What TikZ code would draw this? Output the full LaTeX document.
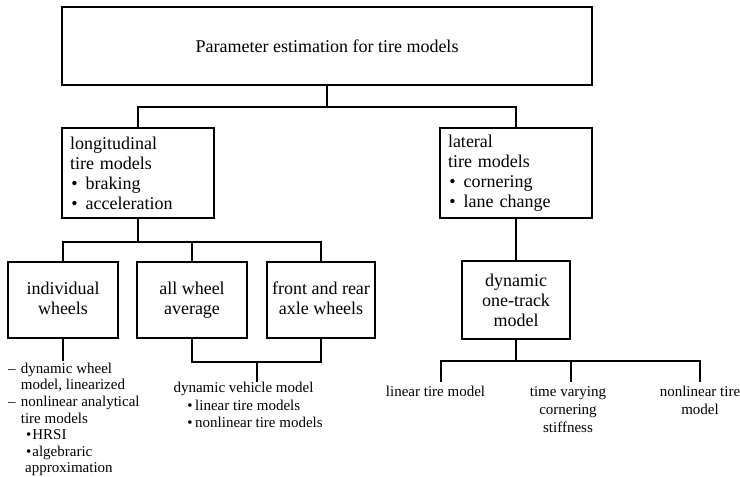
\documentclass[tikz,border=0pt]{standalone}
\usepackage{fontspec}
\setmainfont{Liberation Serif}
% bullet items inside the boxes and in the notes below them
\newcommand\boxitem{\hspace*{1.4pt}\makebox[14.3pt][l]{•}}
\newcommand\nestitem{\hspace*{17.9pt}\makebox[6.3pt][l]{•}}
\newcommand\dashitem{\makebox[12.7pt][l]{–}}
\newcommand\veritem{\hspace*{13.9pt}\makebox[7.8pt][l]{•}}
% keeps the two-line leaf labels on common baselines
\newcommand\lowline{\vphantom{g}}
\begin{document}
\begin{tikzpicture}[x=1pt,y=-1pt,
  box/.style={draw, line width=2pt, inner sep=0pt, font=\fontsize{18}{20}\selectfont},
  cbox/.style={box, align=center},
  lbox/.style={box, align=left, text width=136pt, minimum width=152pt, minimum height=90pt},
  wbox/.style={cbox, minimum height=76pt},
  wire/.style={line width=2pt},
  note/.style={inner sep=0pt, font=\fontsize{15}{#1}\selectfont},
  note/.default=17,
]
\useasboundingbox (0,0) rectangle (740,477);

% root
\node[cbox, minimum width=530pt, minimum height=78pt] (top) at (327,46)
  {Parameter estimation for tire models};

% second level
\node[lbox] (lon) at (138,173)
  {longitudinal\\tire models\\\boxitem braking\\\boxitem acceleration};
\node[lbox] (lat) at (516,173)
  {lateral\\tire models\\\boxitem cornering\\\boxitem lane change};

% third level
\node[wbox, minimum width=110pt] (ind) at (63,300) {individual\\wheels\lowline};
\node[wbox, minimum width=110pt] (avg) at (192,300) {all wheel\\average\lowline};
\node[wbox, minimum width=108pt] (axl) at (321,300) {front and rear\\axle wheels\lowline};
\node[cbox, minimum width=108pt, minimum height=78pt] (dyn) at (516,300)
  {dynamic\\one-track\\model};

% junctions
\coordinate (j1) at (327,107);
\coordinate (j2) at (138,242);
\coordinate (j3) at (257,362);
\coordinate (j4) at (516,361);
\coordinate (e1) at (63,361);
\coordinate (e2) at (257,382);
\coordinate (e3) at (441,382);
\coordinate (e4) at (571,382);
\coordinate (e5) at (700,382);

% connectors
\draw[wire] (top.south) -- (j1);
\draw[wire] (lon.north) |- (j1) -| (lat.north);
\draw[wire] (lon.south) -- (j2);
\draw[wire] (ind.north) |- (j2) -| (axl.north);
\draw[wire] (avg.north) -- (avg.north |- j2);
\draw[wire] (ind.south) -- (e1);
\draw[wire] (avg.south) |- (j3) -| (axl.south);
\draw[wire] (j3) -- (e2);
\draw[wire] (lat.south) -- (dyn.north);
\draw[wire] (dyn.south) -- (j4);
\draw[wire] (e3) |- (j4) -| (e5);
\draw[wire] (e4) -- (e4 |- j4);

% notes under the leaves (multi-line notes are placed by their last baseline)
\node[note=16.6, anchor=base west, align=left] (indnote) at (8,472.9)
  {\dashitem dynamic wheel\\
   \hspace*{12.7pt}model, linearized\\
   \dashitem nonlinear analytical\\
   \hspace*{12.7pt}tire models\\
   \nestitem HRSI\\
   \nestitem algebraric\\
   \hspace*{17pt}approximation};
\node[note=17.7, anchor=base west, align=left] (vehnote) at (173.3,427.7)
  {dynamic vehicle model\\
   \veritem linear tire models\\
   \veritem nonlinear tire models};
\node[note=18, anchor=base, align=center] (linnote) at (435.5,396.7) {linear tire model};
\node[note=18, anchor=base, align=center] (tvnote) at (568,432.7) {time varying\\cornering\\stiffness};
\node[note=18, anchor=base, align=center] (nlnote) at (700,414.7) {nonlinear tire\\model};
\end{tikzpicture}
\end{document}
